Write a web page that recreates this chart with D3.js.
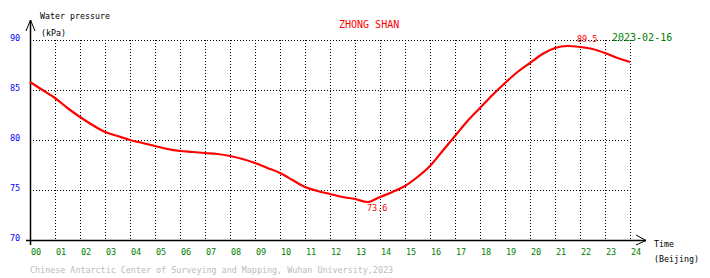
<!DOCTYPE html>
<html>
<head>
  <meta charset="utf-8">
  <title>ZHONG SHAN water pressure</title>
  <script src="https://cdn.jsdelivr.net/npm/d3@7"></script>
  <style>
    body { margin: 0; background: #fff; }
    text { font-family: "DejaVu Sans Mono", monospace; }
  </style>
</head>
<body>
<script>
// hours (Beijing time) and water pressure in kPa
var hours = [0, 0.5, 1, 1.5, 2, 2.5, 3, 3.5, 4, 4.5, 5, 5.5, 6, 6.5, 7, 7.5, 8, 8.5,
  9, 9.5, 10, 10.5, 11, 11.5, 12, 12.5, 13, 13.5, 14, 14.5, 15, 15.5, 16, 16.5,
  17, 17.5, 18, 18.5, 19, 19.5, 20, 20.5, 21, 21.5, 22, 22.5, 23, 23.5, 24];
var pressure = [85.8, 85.0, 84.2, 83.2, 82.3, 81.5, 80.8, 80.4, 80.0, 79.7, 79.4, 79.1,
  78.9, 78.8, 78.7, 78.6, 78.4, 78.1, 77.7, 77.2, 76.7, 76.0, 75.3, 74.9, 74.6, 74.3,
  74.1, 73.8, 74.3, 74.8, 75.4, 76.3, 77.4, 78.9, 80.4, 81.9, 83.2, 84.5, 85.7, 86.8,
  87.7, 88.6, 89.2, 89.4, 89.3, 89.1, 88.7, 88.2, 87.8];

var xTicks = d3.range(0, 25);
var yTicks = [70, 75, 80, 85, 90];

// min / max marks
var maxMark = { hour: 21.88, value: 89.5 };
var minMark = { hour: 13.48, value: 73.6 };

var station = "ZHONG SHAN";
var dateLabel = "2023-02-16";
var credit = "Chinese Antarctic Center of Surveying and Mapping, Wuhan University,2023";

var width = 710, height = 278;

var svg = d3.select("body").append("svg")
  .attr("width", width)
  .attr("height", height);

var x = d3.scaleLinear().domain([0, 24]).range([30, 630]);
var y = d3.scaleLinear().domain([70, 90]).range([240, 40]);

// vertical grid lines
svg.append("g")
  .selectAll("line")
  .data(xTicks.filter(function(d) { return d > 0; }))
  .enter().append("line")
  .attr("x1", function(d) { return x(d) + 0.5; })
  .attr("x2", function(d) { return x(d) + 0.5; })
  .attr("y1", y(90))
  .attr("y2", y(70))
  .attr("stroke", "#000")
  .attr("stroke-dasharray", "1,2");

// horizontal grid lines
svg.append("g")
  .selectAll("line")
  .data(yTicks.filter(function(d) { return d > 70; }))
  .enter().append("line")
  .attr("x1", x(0))
  .attr("x2", x(24))
  .attr("y1", function(d) { return y(d) + 0.5; })
  .attr("y2", function(d) { return y(d) + 0.5; })
  .attr("stroke", "#000")
  .attr("stroke-dasharray", "1,2");

// axes
svg.append("line")
  .attr("x1", 30.5).attr("x2", 30.5)
  .attr("y1", 20).attr("y2", 245)
  .attr("stroke", "#000").attr("stroke-width", 1.5);
svg.append("path")
  .attr("d", "M26,31L30.5,20L35,31")
  .attr("fill", "none").attr("stroke", "#000");
svg.append("line")
  .attr("x1", 26).attr("x2", 646)
  .attr("y1", 240.5).attr("y2", 240.5)
  .attr("stroke", "#000").attr("stroke-width", 1.5);
svg.append("path")
  .attr("d", "M636,235L646,240.5L636,245")
  .attr("fill", "none").attr("stroke", "#000");

// tick labels
svg.append("g")
  .selectAll("text")
  .data(xTicks)
  .enter().append("text")
  .attr("x", function(d) { return x(d) + 1; })
  .attr("y", 255)
  .attr("fill", "green")
  .attr("font-size", 8.5)
  .text(function(d) { return d3.format("02d")(d); });

svg.append("g")
  .selectAll("text")
  .data(yTicks)
  .enter().append("text")
  .attr("x", 10)
  .attr("y", function(d) { return y(d) + 1; })
  .attr("fill", "blue")
  .attr("font-size", 8.5)
  .text(function(d) { return d; });

// axis titles
svg.append("text").attr("x", 40).attr("y", 19).attr("font-size", 8.3).text("Water pressure");
svg.append("text").attr("x", 41).attr("y", 36).attr("font-size", 8.3).text("(kPa)");
svg.append("text").attr("x", 654).attr("y", 247).attr("font-size", 8.3).text("Time");
svg.append("text").attr("x", 654).attr("y", 262).attr("font-size", 8.3).text("(Beijing)");

svg.append("text").attr("x", 339).attr("y", 28).attr("font-size", 10)
  .attr("fill", "red").text(station);
svg.append("text").attr("x", 612).attr("y", 41).attr("font-size", 10)
  .attr("fill", "green").text(dateLabel);
svg.append("text").attr("x", 30).attr("y", 273).attr("font-size", 8.4)
  .attr("fill", "#bbb").text(credit);

// pressure curve
var line = d3.line()
  .x(function(d, i) { return x(hours[i]); })
  .y(function(d) { return y(d); })
  .curve(d3.curveMonotoneX);

svg.append("path")
  .datum(pressure)
  .attr("d", line)
  .attr("fill", "none")
  .attr("stroke", "red")
  .attr("stroke-width", 2.2);

// max / min values
svg.append("text")
  .attr("x", x(maxMark.hour)).attr("y", y(maxMark.value) - 3)
  .attr("fill", "red").attr("font-size", 8.5)
  .text(maxMark.value.toFixed(1));
svg.append("text")
  .attr("x", x(minMark.hour)).attr("y", y(minMark.value) + 7)
  .attr("fill", "red").attr("font-size", 8.5)
  .text(minMark.value.toFixed(1));
</script>
</body>
</html>
